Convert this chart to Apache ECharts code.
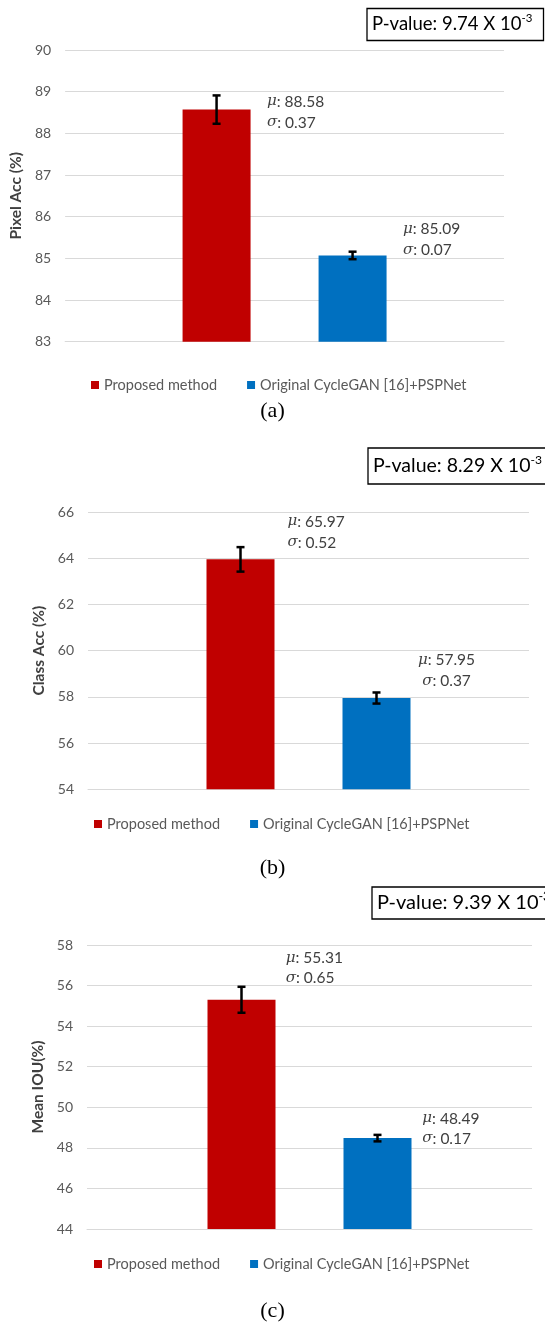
<!DOCTYPE html>
<html><head><meta charset="utf-8">
<script src="https://cdn.jsdelivr.net/npm/echarts@6/dist/echarts.min.js"></script>
<style>html,body{margin:0;padding:0;background:#fff}#c{width:545px;height:1324px}</style>
</head><body><div id="c"></div>
<script>
// ---- data ----
const seriesNames = ['Proposed method', 'Original CycleGAN [16]+PSPNet'];
const category = ['Result'];
const axisNames = ['Pixel Acc (%)', 'Class Acc (%)', 'Mean IOU(%)'];
const captions = ['(a)', '(b)', '(c)'];
const pixelAcc = [88.57, 85.07];
const pixelAccErr = [0.34, 0.09];
const classAcc = [63.95, 57.95];
const classAccErr = [0.53, 0.24];
const meanIOU = [55.30, 48.48];
const meanIOUErr = [0.64, 0.16];
const pixelAccMu = ['88.58', '85.09'];
const pixelAccSigma = ['0.37', '0.07'];
const classAccMu = ['65.97', '57.95'];
const classAccSigma = ['0.52', '0.37'];
const meanIOUMu = ['55.31', '48.49'];
const meanIOUSigma = ['0.65', '0.17'];
const pValues = ['9.74', '8.29', '9.39'];
const pExponent = '-3';
const yMin = [83, 54, 44];
const yMax = [90, 66, 58];
const yInterval = [1, 2, 2];

// ---- layout / style ----
const COLORS = ['#C00000', '#0070C0'];
const BAR_W = 68;
const FONT = 'Lato';
const panels = [
  {values: pixelAcc, errs: pixelAccErr, mu: pixelAccMu, sigma: pixelAccSigma,
   grid: {left: 62, right: 41, top: 50, height: 291.7}, nameGap: 36,
   legend: {left: 91, top: 377.5},
   ann: [{x: 267, y: 91, align: 'left', lh: 21}, {x: 403, y: 218.5, align: 'left', lh: 21}],
   box: {x: 367, y: 8.5, w: 176.5, h: 32, fs: 18.5}, cap: {y: 411}},
  {values: classAcc, errs: classAccErr, mu: classAccMu, sigma: classAccSigma,
   grid: {left: 88, right: 16, top: 512, height: 277.3}, nameGap: 38,
   legend: {left: 94, top: 816.5},
   ann: [{x: 287.5, y: 511, align: 'left', lh: 21}, {x: 446.5, y: 649.5, align: 'center', lh: 21}],
   box: {x: 368, y: 448, w: 185, h: 36, fs: 19.5}, cap: {y: 868}},
  {values: meanIOU, errs: meanIOUErr, mu: meanIOUMu, sigma: meanIOUSigma,
   grid: {left: 87, right: 13, top: 945, height: 284}, nameGap: 38,
   legend: {left: 94, top: 1256.5},
   ann: [{x: 285.7, y: 948.5, align: 'left', lh: 19.5}, {x: 422.3, y: 1108.5, align: 'left', lh: 20}],
   box: {x: 372, y: 887, w: 185, h: 32, fs: 20}, cap: {y: 1311}}
];

function errRender(params, api) {
  const idx = api.value(3);
  const top = api.coord([api.value(0), api.value(2)]);
  const bot = api.coord([api.value(0), api.value(1)]);
  const x = top[0] + (idx - 0.5) * 2 * BAR_W;
  const c = 4, st = {stroke: '#000', lineWidth: 2.5};
  return {type: 'group', children: [
    {type: 'line', shape: {x1: x, y1: top[1], x2: x, y2: bot[1]}, style: st},
    {type: 'line', shape: {x1: x - c, y1: top[1], x2: x + c, y2: top[1]}, style: st},
    {type: 'line', shape: {x1: x - c, y1: bot[1], x2: x + c, y2: bot[1]}, style: st}
  ]};
}

const option = {
  animation: false,
  backgroundColor: '#fff',
  grid: [], xAxis: [], yAxis: [], series: [], legend: [], graphic: []
};

panels.forEach((p, i) => {
  option.grid.push(Object.assign({containLabel: false}, p.grid));
  option.xAxis.push({
    type: 'category', gridIndex: i, data: category,
    axisLine: {show: true, lineStyle: {color: '#d9d9d9', width: 1}},
    axisTick: {show: false}, axisLabel: {show: false}
  });
  option.yAxis.push({
    type: 'value', gridIndex: i, min: yMin[i], max: yMax[i], interval: yInterval[i],
    name: axisNames[i], nameLocation: 'middle', nameGap: p.nameGap - 2,
    nameTextStyle: {fontFamily: FONT, fontWeight: 'bold', fontSize: 15.5, color: '#404040'},
    axisLine: {show: false}, axisTick: {show: false},
    axisLabel: {fontFamily: FONT, fontSize: 14, color: '#595959', margin: 14},
    splitLine: {lineStyle: {color: '#d9d9d9', width: 1}}
  });
  seriesNames.forEach((n, k) => {
    option.series.push({
      type: 'bar', name: n, xAxisIndex: i, yAxisIndex: i,
      data: [p.values[k]], barWidth: BAR_W, barGap: '100%',
      itemStyle: {color: COLORS[k]}, z: 2
    });
  });
  option.series.push({
    type: 'custom', name: 'err' + i, xAxisIndex: i, yAxisIndex: i, z: 5,
    renderItem: errRender, encode: {x: 0, y: [1, 2]},
    data: p.values.map((v, k) => [0, v - p.errs[k], v + p.errs[k], k])
  });
  option.legend.push({
    data: seriesNames, left: p.legend.left, top: p.legend.top, padding: 0,
    icon: 'rect', itemWidth: 8, itemHeight: 8, itemGap: 30,
    textStyle: {fontFamily: FONT, fontSize: 14.5, color: '#595959'}
  });
  p.ann.forEach((a, k) => {
    option.graphic.push({
      type: 'text', x: a.x, y: a.y, z: 10,
      style: {
        text: '{g|\u03bc}: ' + p.mu[k] + '\n{g|\u03c3}: ' + p.sigma[k],
        fontFamily: FONT, fontSize: 15.5, fill: '#404040', lineHeight: a.lh,
        align: a.align, verticalAlign: 'top',
        rich: {g: {fontFamily: 'DejaVu Serif', fontStyle: 'italic', fontSize: 15, lineHeight: a.lh}}
      }
    });
  });
  const b = p.box;
  option.graphic.push({
    type: 'group', z: 10, children: [
      {type: 'rect', shape: {x: b.x, y: b.y, width: b.w, height: b.h},
       style: {fill: '#fff', stroke: '#000', lineWidth: 1.3}},
      {type: 'text', x: b.x + 5, y: b.y + b.h / 2,
       style: {text: '{m|P-value: ' + pValues[i] + ' X 10}{s|' + pExponent + '}',
               verticalAlign: 'middle', fill: '#000',
               rich: {m: {fontFamily: FONT, fontSize: b.fs, lineHeight: b.fs + 4, fill: '#000'},
                      s: {fontFamily: FONT, fontSize: b.fs * 0.62, verticalAlign: 'top', lineHeight: b.fs + 4, fill: '#000'}}}}
    ]
  });
  option.graphic.push({
    type: 'text', x: 272.5, y: p.cap.y, z: 10,
    style: {text: captions[i], fontFamily: 'Liberation Serif', fontSize: 22, fill: '#000',
            align: 'center', verticalAlign: 'middle'}
  });
});

const chart = echarts.init(document.getElementById('c'), null, {renderer: 'canvas'});
chart.setOption(option);
</script></body></html>
